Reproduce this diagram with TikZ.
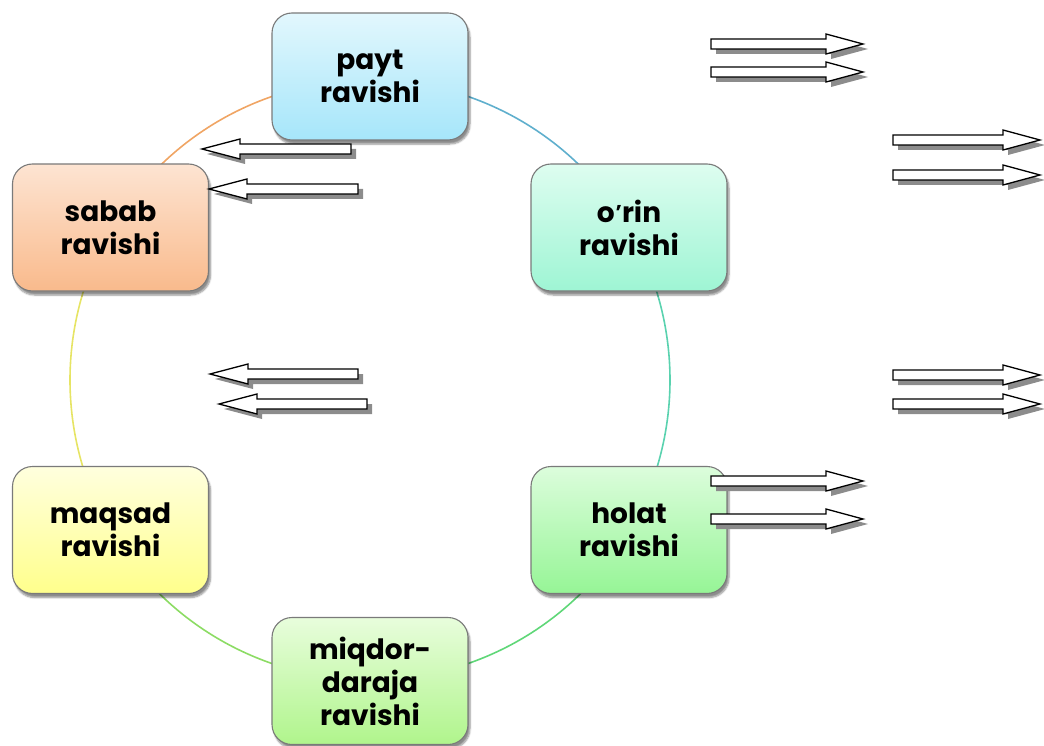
\documentclass[tikz,border=0pt]{standalone}
\usepackage{fontspec}
\newfontfamily\boxfont{Poppins}[BoldFont={Poppins Bold}]
\usetikzlibrary{shadows,shadows.blur}
\definecolor{bord}{HTML}{7A7A7A}
\tikzset{
  catbox/.style={rounded corners=20pt, draw=bord, line width=1.1pt,
    minimum width=196pt, minimum height=127pt, inner sep=0pt, align=center,
    font=\boxfont\bfseries\fontsize{28}{33}\selectfont,
    blur shadow={shadow xshift=2pt, shadow yshift=-4pt, shadow blur steps=6, shadow opacity=45}},
  arrowbody/.style={draw=black, line width=1.3pt, fill=white, line join=miter},
  arrowshadow/.style={fill=black!45, draw=none},
  ring/.style={line width=1.6pt}
}
% right-pointing block arrow: #1 left x, #2 tip x, #3 centre y
\newcommand\myrarrow[3]{%
  \fill[arrowshadow, shift={(5,5)}] (#1,#3-5) -- (#2-37,#3-5) -- (#2-37,#3-10) -- (#2,#3) -- (#2-37,#3+10) -- (#2-37,#3+5) -- (#1,#3+5) -- cycle;
  \filldraw[arrowbody] (#1,#3-5) -- (#2-37,#3-5) -- (#2-37,#3-10) -- (#2,#3) -- (#2-37,#3+10) -- (#2-37,#3+5) -- (#1,#3+5) -- cycle;}
% left-pointing block arrow: #1 tip x, #2 right x, #3 centre y
\newcommand\mylarrow[3]{%
  \fill[arrowshadow, shift={(5,5)}] (#2,#3-5) -- (#1+38,#3-5) -- (#1+38,#3-10) -- (#1,#3) -- (#1+38,#3+10) -- (#1+38,#3+5) -- (#2,#3+5) -- cycle;
  \filldraw[arrowbody] (#2,#3-5) -- (#1+38,#3-5) -- (#1+38,#3-10) -- (#1,#3) -- (#1+38,#3+10) -- (#1+38,#3+5) -- (#2,#3+5) -- cycle;}
\begin{document}
\begin{tikzpicture}[x=1pt,y=-1pt]
\useasboundingbox (0,0) rectangle (1044,746);
\coordinate (c) at (370,380);
% ring
\draw[ring, color={rgb,255:red,240;green,165;blue,100}] ([shift={(210:300)}]c) arc[start angle=210, end angle=270, radius=300];
\draw[ring, color={rgb,255:red,95;green,175;blue,205}] ([shift={(270:300)}]c) arc[start angle=270, end angle=330, radius=300];
\draw[ring, color={rgb,255:red,90;green,210;blue,175}] ([shift={(330:300)}]c) arc[start angle=330, end angle=390, radius=300];
\draw[ring, color={rgb,255:red,95;green,215;blue,120}] ([shift={(30:300)}]c) arc[start angle=30, end angle=90, radius=300];
\draw[ring, color={rgb,255:red,140;green,220;blue,100}] ([shift={(90:300)}]c) arc[start angle=90, end angle=150, radius=300];
\draw[ring, color={rgb,255:red,230;green,228;blue,100}] ([shift={(150:300)}]c) arc[start angle=150, end angle=210, radius=300];
% boxes
\node[catbox, top color={rgb,255:red,226;green,247;blue,253}, bottom color={rgb,255:red,166;green,230;blue,250}] (payt) at (370,76.5) {payt\\ravishi};
\node[catbox, top color={rgb,255:red,253;green,228;blue,210}, bottom color={rgb,255:red,249;green,186;blue,140}] (sabab) at (110.5,227.5) {sabab\\ravishi};
\node[catbox, top color={rgb,255:red,222;green,253;blue,240}, bottom color={rgb,255:red,158;green,245;blue,212}] (orin) at (629,227.5) {o\kern1pt\raisebox{3pt}{\fontsize{20}{20}\selectfont\char"2019}rin\\ravishi};
\node[catbox, top color={rgb,255:red,255;green,255;blue,222}, bottom color={rgb,255:red,255;green,255;blue,140}] (maqsad) at (110.5,530) {maqsad\\ravishi};
\node[catbox, top color={rgb,255:red,220;green,253;blue,220}, bottom color={rgb,255:red,150;green,245;blue,150}] (holat) at (629,530) {holat\\ravishi};
\node[catbox, top color={rgb,255:red,232;green,253;blue,220}, bottom color={rgb,255:red,176;green,245;blue,140}] (miqdor) at (370,681) {miqdor-\\daraja\\ravishi};
% arrows
\myrarrow{711}{863}{44}
\myrarrow{711}{863}{72}
\myrarrow{893}{1040}{140}
\myrarrow{893}{1040}{175}
\myrarrow{893}{1040}{375}
\myrarrow{893}{1040}{404}
\myrarrow{711}{863}{481}
\myrarrow{711}{863}{519}
\mylarrow{202}{351}{149}
\mylarrow{209}{358}{189}
\mylarrow{210}{358}{374}
\mylarrow{219}{367}{404}
\end{tikzpicture}
\end{document}
